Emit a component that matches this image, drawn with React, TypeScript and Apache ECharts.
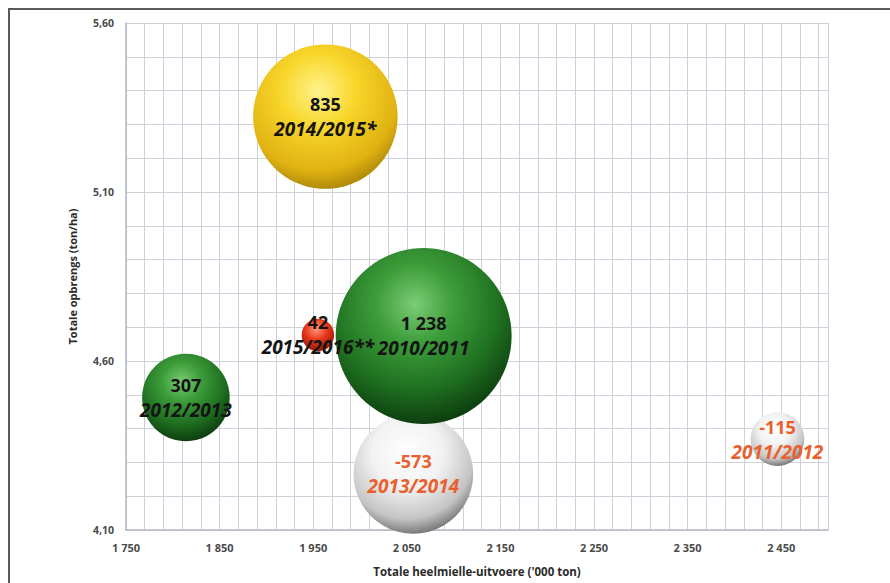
import React, { useEffect, useRef } from "react";
import * as echarts from "echarts";

// Seasons, total exports ('000 ton), total yield (ton/ha) and change in exports ('000 ton)
const seasons = ["2010/2011", "2011/2012", "2012/2013", "2013/2014", "2014/2015*", "2015/2016**"];
const exportsKt = [2068, 2446, 1814, 2057, 1963, 1955];
const yieldTonHa = [4.674, 4.369, 4.492, 4.266, 5.323, 4.677];
const exportChange = [1238, -115, 307, -573, 835, 42];

const xAxisTitle = "Totale heelmielle-uitvoere ('000 ton)";
const yAxisTitle = "Totale opbrengs (ton/ha)";

// Sphere shading for each season
const sphere = (stops: [number, string][]) => ({
  type: "radial",
  x: 0.45,
  y: 0.32,
  r: 0.74,
  colorStops: stops.map(([offset, color]) => ({ offset, color })),
});
const fills: Record<string, any> = {
  green: sphere([[0, "#7ccc76"], [0.3, "#3d9d3a"], [0.65, "#1f7020"], [0.9, "#0f4211"], [1, "#082a09"]]),
  white: sphere([[0, "#ffffff"], [0.4, "#f2f2f2"], [0.75, "#c4c4c4"], [0.92, "#7a7a7a"], [1, "#444444"]]),
  yellow: sphere([[0, "#fff38c"], [0.35, "#f8d62a"], [0.75, "#e0b212"], [1, "#9a7806"]]),
  red: sphere([[0, "#ff9a7a"], [0.45, "#e8381c"], [1, "#8e1200"]]),
};
const seasonFill: Record<string, string> = {
  "2010/2011": "green",
  "2011/2012": "white",
  "2012/2013": "green",
  "2013/2014": "white",
  "2014/2015*": "yellow",
  "2015/2016**": "red",
};

const groupThousands = (n: number) =>
  (n < 0 ? "-" : "") + Math.abs(Math.round(n)).toString().replace(/\B(?=(\d{3})+(?!\d))/g, " ");

const FONT = "'Open Sans', 'Liberation Sans', sans-serif";
const GRID = "#cdd1d9";

export default function App() {
  const ref = useRef<HTMLDivElement>(null);

  useEffect(() => {
    document.body.style.margin = "0";
    document.body.style.overflow = "hidden";
    if (!ref.current) return;
    const chart = echarts.init(ref.current, null, { renderer: "svg" });

    // shrinking exports drawn first so the growing ones sit above them
    const order = seasons
      .map((_, i) => i)
      .sort((a, b) => (exportChange[a] < 0 ? 0 : 1) - (exportChange[b] < 0 ? 0 : 1));

    const data = order.map((i) => ({
      name: seasons[i],
      value: [exportsKt[i], yieldTonHa[i], exportChange[i]],
      itemStyle: { color: fills[seasonFill[seasons[i]]] },
      label: { color: exportChange[i] < 0 ? "#e8602e" : "#141414" },
    }));

    chart.setOption({
      animation: false,
      backgroundColor: "#ffffff",
      grid: { left: 116, top: 13, right: 62, bottom: 53 },
      xAxis: {
        type: "value",
        min: 1750,
        max: 2500,
        interval: 20,
        name: xAxisTitle,
        nameLocation: "middle",
        nameGap: 35,
        nameTextStyle: { fontFamily: FONT, fontWeight: "bold", fontSize: 11.5, color: "#2a2a2a" },
        axisLine: { show: true, lineStyle: { color: "#b4b8c0", width: 1.5 } },
        axisTick: { show: false },
        splitLine: { show: true, lineStyle: { color: GRID, width: 1 } },
        axisLabel: {
          margin: 12,
          fontFamily: FONT,
          fontWeight: "bold",
          fontSize: 11,
          color: "#4a4a4a",
          showMaxLabel: false,
          formatter: (v: number) =>
            Math.round(v - 1750) % 100 === 0 && v < 2500 ? groupThousands(v) : "",
        },
      },
      yAxis: {
        type: "value",
        min: 4.1,
        max: 5.6,
        interval: 0.1,
        name: yAxisTitle,
        nameLocation: "middle",
        nameGap: 48,
        nameRotate: 90,
        nameTextStyle: { fontFamily: FONT, fontWeight: "bold", fontSize: 11, color: "#2a2a2a" },
        axisLine: { show: true, lineStyle: { color: "#b4b8c0", width: 1.5 } },
        axisTick: { show: false },
        splitLine: { show: true, lineStyle: { color: GRID, width: 1 } },
        axisLabel: {
          margin: 12,
          fontFamily: FONT,
          fontWeight: "bold",
          fontSize: 10.5,
          color: "#4a4a4a",
          formatter: (v: number) =>
            Math.round((v - 4.1) * 10) % 5 === 0 ? v.toFixed(2).replace(".", ",") : "",
        },
      },
      series: [
        {
          type: "scatter",
          data,
          // bubble area proportional to the size of the change
          symbolSize: (val: number[]) => 5 * Math.sqrt(Math.abs(val[2])),
          itemStyle: { opacity: 1 },
          label: {
            show: true,
            position: "inside",
            fontFamily: FONT,
            lineHeight: 25,
            formatter: (p: any) => `{v|${groupThousands(p.value[2])}}\n{s|${p.name}}`,
            rich: {
              v: { fontFamily: FONT, fontSize: 18, fontWeight: "bold", lineHeight: 25 },
              s: {
                fontFamily: FONT,
                fontSize: 19,
                fontWeight: "bold",
                fontStyle: "italic",
                lineHeight: 25,
              },
            },
          },
        },
      ],
    });

    return () => chart.dispose();
  }, []);

  return (
    <div
      style={{
        marginLeft: 8,
        marginTop: 8,
        width: 882,
        height: 575,
        boxSizing: "border-box",
        borderTop: "2px solid #5a5a5a",
        borderLeft: "2px solid #5a5a5a",
      }}
    >
      <div ref={ref} style={{ width: 880, height: 573 }} />
    </div>
  );
}
